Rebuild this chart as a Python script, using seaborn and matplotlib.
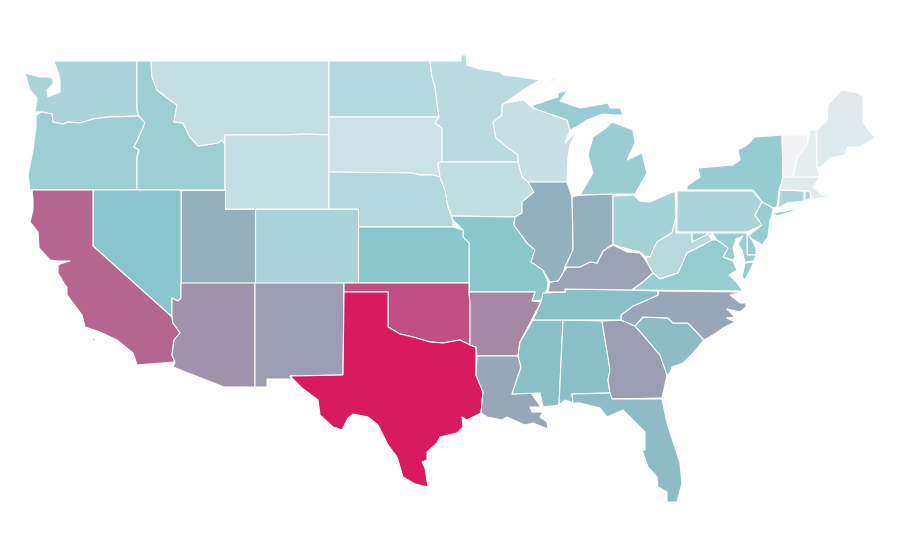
import matplotlib
matplotlib.use("Agg")
import matplotlib.pyplot as plt
import numpy as np
import seaborn as sns
from matplotlib.collections import PolyCollection
from matplotlib.colors import Normalize

sns.set_theme(style="white")

states = ["WA", "OR", "ID", "MT", "WY", "ND", "SD", "NE", "MN", "WI", "IA", "MO", "KS", "CO", "UT",
          "NV", "CA", "AZ", "NM", "OK", "TX", "AR", "LA", "MS", "AL", "GA", "FL", "SC", "NC", "TN",
          "KY", "IL", "IN", "OH", "MI", "NY", "PA", "NJ", "DE", "MD", "WV", "VA", "CT", "RI", "MA",
          "VT", "NH", "ME"]
values = [34, 41, 41, 22, 22, 30, 19, 30, 27, 21, 24, 49, 49, 34, 57,
          50, 78, 65, 62, 84, 100, 68, 59, 52, 52, 62, 53, 53, 59, 52,
          60, 56, 57, 37, 42, 44, 34, 43, 43, 43, 28, 43, 34, 34, 9,
          0, 6, 10]

# outlines are geography traced in picture pixels, some states have more than one piece
outlines = {
    "WA": [[(54, 61), (137, 61), (137, 110), (139, 116), (108, 117), (93, 119), (80, 123), (68, 122), (63, 124),
            (53, 122), (52, 114), (42, 112), (35, 112), (37, 98), (30, 90), (27, 80), (25, 73), (40, 77), (50, 77),
            (53, 79), (53, 84), (47, 90), (48, 97), (60, 92), (60, 80), (58, 72)]],
    "OR": [[(36, 115), (42, 112), (52, 114), (53, 122), (63, 124), (68, 122), (80, 123), (93, 119), (108, 117),
            (139, 116), (145, 123), (138, 139), (134, 147), (139, 150), (137, 157), (137, 190), (30, 190), (28, 175),
            (33, 150), (36, 127)]],
    "ID": [[(137, 61), (151, 61), (152, 77), (157, 90), (167, 98), (177, 105), (174, 122), (183, 123), (190, 137),
            (198, 146), (218, 143), (222, 140), (225, 145), (225, 190), (137, 190), (137, 157), (139, 150), (134, 147),
            (138, 139), (145, 123), (139, 116), (137, 110)]],
    "MT": [[(151, 61), (329, 61), (329, 135), (305, 134), (285, 135), (255, 135), (225, 135), (225, 145), (222, 140),
            (218, 143), (198, 146), (190, 137), (183, 123), (174, 122), (177, 105), (167, 98), (157, 90), (152, 77)]],
    "WY": [[(225, 135), (255, 135), (285, 135), (305, 134), (329, 135), (329, 209), (225, 209)]],
    "ND": [[(329, 61), (430, 61), (432, 77), (435, 87), (437, 103), (439, 117), (329, 117)]],
    "SD": [[(329, 117), (439, 117), (435, 123), (442, 128), (442, 162), (438, 163), (440, 177), (433, 175), (420, 175),
            (412, 173), (329, 172)]],
    "NE": [[(329, 172), (412, 173), (420, 175), (433, 175), (440, 177), (445, 190), (448, 207), (453, 220), (453, 227),
            (358, 227), (358, 209), (329, 209)]],
    "MN": [[(430, 61), (461, 61), (461, 55), (466, 55), (467, 65), (480, 69), (500, 72), (503, 75), (520, 77), (540, 80),
            (523, 90), (505, 103), (502, 105), (502, 115), (493, 122), (496, 138), (507, 147), (518, 155), (518, 162),
            (442, 162), (442, 128), (435, 123), (439, 117), (437, 103), (435, 87), (432, 77)]],
    "WI": [[(502, 105), (505, 103), (523, 100), (533, 108), (567, 120), (570, 130), (565, 143), (577, 131), (570, 145),
            (568, 157), (567, 182), (528, 182), (522, 177), (518, 162), (518, 155), (507, 147), (496, 138), (493, 122),
            (502, 115)]],
    "IA": [[(442, 162), (518, 162), (522, 177), (528, 182), (534, 192), (522, 202), (522, 213), (515, 217), (452, 216),
            (448, 207), (445, 190), (440, 177), (438, 163)]],
    "MO": [[(452, 216), (515, 217), (514, 225), (527, 243), (535, 250), (531, 262), (543, 270), (548, 282), (547, 290),
            (541, 300), (532, 301), (535, 292), (469, 292), (469, 243), (463, 237), (463, 230), (453, 220)]],
    "KS": [[(358, 227), (453, 227), (463, 230), (463, 237), (469, 243), (469, 283), (358, 283)]],
    "CO": [[(255, 209), (358, 209), (358, 283), (255, 283)]],
    "UT": [[(181, 190), (225, 190), (225, 209), (255, 209), (255, 283), (181, 283)]],
    "NV": [[(93, 190), (181, 190), (181, 298), (178, 301), (172, 298), (172, 317), (93, 246)]],
    "CA": [[(32, 190), (93, 190), (93, 246), (172, 317), (173, 323), (180, 333), (174, 340), (172, 355), (175, 362),
            (137, 365), (133, 353), (117, 340), (100, 332), (85, 327), (82, 315), (73, 303), (67, 295), (67, 287),
            (65, 285), (58, 273), (58, 266), (60, 264), (70, 261), (58, 261), (50, 260), (39, 248), (38, 232),
            (30, 222), (33, 210), (33, 200)],
           [(92, 338), (94, 338), (94, 340), (92, 340)]],
    "AZ": [[(181, 283), (255, 283), (255, 387), (224, 387), (173, 367), (175, 362), (172, 355), (174, 340), (180, 333),
            (173, 323), (172, 317), (172, 298), (178, 301), (181, 298)]],
    "NM": [[(255, 283), (344, 283), (344, 292), (343, 375), (290, 376), (292, 379), (267, 379), (267, 387), (255, 387)]],
    "OK": [[(344, 283), (469, 283), (469, 292), (470, 303), (470, 345), (460, 340), (443, 343), (430, 342), (413, 337),
            (400, 334), (388, 327), (388, 292), (344, 292)]],
    "TX": [[(344, 292), (388, 292), (388, 327), (400, 334), (413, 337), (430, 342), (443, 343), (460, 340), (470, 345),
            (476, 347), (476, 375), (483, 392), (481, 413), (467, 420), (462, 417), (463, 427), (457, 433), (440, 437),
            (437, 443), (427, 452), (427, 460), (422, 462), (425, 468), (428, 487), (415, 484), (403, 477), (397, 457),
            (388, 445), (378, 425), (368, 417), (353, 414), (348, 418), (342, 430), (333, 427), (320, 415), (318, 400),
            (302, 388), (290, 376), (343, 375)]],
    "AR": [[(469, 292), (535, 292), (532, 301), (541, 302), (533, 317), (528, 327), (520, 342), (518, 356), (477, 356),
            (476, 347), (470, 345), (470, 303)]],
    "LA": [[(477, 356), (518, 356), (521, 367), (512, 394), (531, 393), (541, 407), (530, 407), (532, 412), (543, 412),
            (540, 417), (547, 422), (548, 429), (533, 423), (525, 425), (507, 417), (502, 420), (487, 417), (481, 413),
            (483, 392), (476, 375)]],
    "MS": [[(533, 320), (563, 320), (559, 405), (543, 407), (540, 393), (512, 394), (521, 367), (518, 356), (520, 342)]],
    "AL": [[(563, 320), (602, 321), (610, 370), (608, 380), (610, 393), (572, 394), (573, 403), (565, 400), (559, 405)]],
    "GA": [[(602, 321), (621, 320), (635, 326), (643, 335), (660, 355), (667, 375), (662, 398), (612, 399), (610, 393),
            (608, 380), (610, 370)]],
    "FL": [[(572, 394), (610, 393), (612, 399), (662, 399), (667, 423), (680, 463), (682, 483), (677, 502), (667, 502),
            (667, 492), (658, 487), (657, 477), (648, 467), (642, 450), (645, 450), (645, 432), (633, 420), (623, 410),
            (607, 417), (600, 408), (580, 403), (573, 403)]],
    "SC": [[(635, 326), (643, 317), (668, 318), (673, 323), (688, 323), (704, 340), (693, 353), (683, 363), (672, 367),
            (670, 373), (667, 375), (660, 355), (643, 335)]],
    "NC": [[(621, 320), (621, 315), (633, 306), (647, 300), (658, 295), (658, 291), (742, 292), (730, 295), (740, 303),
            (746, 303), (746, 307), (740, 312), (727, 309), (735, 317), (727, 318), (735, 322), (723, 328), (713, 335),
            (704, 340), (688, 323), (673, 323), (668, 318), (643, 317), (635, 326)]],
    "TN": [[(543, 293), (565, 292), (565, 289), (632, 290), (658, 291), (658, 295), (647, 300), (633, 306), (621, 315),
            (621, 320), (563, 320), (533, 320), (541, 302)]],
    "KY": [[(548, 292), (550, 282), (558, 281), (563, 273), (567, 267), (580, 267), (590, 262), (597, 263), (603, 251),
            (613, 245), (627, 252), (640, 253), (647, 262), (653, 273), (643, 282), (632, 290), (565, 289), (565, 292)]],
    "IL": [[(528, 182), (567, 182), (572, 197), (573, 240), (573, 250), (565, 267), (563, 273), (558, 281), (550, 282),
            (543, 270), (531, 262), (535, 250), (527, 243), (514, 225), (515, 217), (522, 213), (522, 202), (534, 192)]],
    "IN": [[(572, 197), (580, 195), (613, 194), (613, 244), (603, 251), (597, 263), (590, 262), (580, 267), (567, 267),
            (565, 267), (573, 250), (573, 240)]],
    "OH": [[(613, 196), (633, 195), (640, 201), (650, 202), (675, 191), (676, 217), (672, 233), (657, 242), (650, 257),
            (646, 257), (640, 252), (620, 247), (613, 244)]],
    "MI": [[(580, 195), (593, 173), (588, 155), (593, 137), (606, 128), (612, 122), (633, 130), (635, 143), (627, 160),
            (642, 153), (647, 173), (635, 194), (613, 194)],
           [(533, 105), (558, 97), (558, 93), (568, 90), (560, 101), (580, 108), (608, 103), (610, 108), (620, 108),
            (623, 115), (613, 115), (603, 114), (587, 120), (578, 126), (570, 130), (567, 120), (533, 108)],
           [(550, 81), (555, 78), (556, 79), (551, 82)]],
    "NY": [[(755, 137), (782, 135), (783, 177), (779, 190), (777, 207), (773, 208), (762, 202), (757, 195), (753, 190),
            (687, 190), (687, 186), (700, 177), (698, 168), (733, 165), (740, 160), (738, 150), (747, 145)],
           [(773, 213), (802, 208), (790, 212), (777, 216)]],
    "PA": [[(677, 191), (687, 191), (753, 191), (757, 196), (762, 202), (755, 215), (762, 225), (747, 232), (677, 232)]],
    "NJ": [[(762, 202), (773, 208), (772, 215), (770, 220), (768, 237), (762, 245), (748, 236), (762, 225), (755, 215)]],
    "DE": [[(747, 233), (752, 240), (756, 248), (756, 255), (747, 255)]],
    "MD": [[(692, 233), (747, 233), (747, 255), (756, 255), (754, 261), (745, 262), (742, 250), (738, 244), (743, 236),
            (736, 239), (733, 248), (735, 257), (733, 260), (723, 257), (728, 248), (717, 240), (712, 233), (708, 238),
            (692, 242)]],
    "WV": [[(676, 217), (676, 233), (692, 233), (692, 242), (708, 234), (712, 240), (703, 245), (687, 253), (678, 273),
            (660, 279), (653, 273), (647, 262), (646, 257), (650, 257), (657, 242), (672, 233)]],
    "VA": [[(632, 290), (643, 282), (653, 273), (660, 279), (678, 273), (687, 253), (703, 245), (712, 240), (717, 240),
            (728, 248), (723, 257), (733, 261), (737, 270), (729, 275), (737, 283), (743, 291)],
           [(745, 263), (754, 262), (745, 280), (742, 277)]],
    "CT": [[(780, 190), (804, 191), (804, 201), (787, 203), (777, 209), (779, 203)]],
    "RI": [[(805, 191), (810, 191), (811, 198), (805, 201)]],
    "MA": [[(783, 177), (820, 177), (813, 187), (822, 195), (831, 196), (815, 199), (811, 198), (810, 191), (780, 190)]],
    "VT": [[(782, 135), (808, 135), (807, 145), (797, 158), (793, 177), (783, 177)]],
    "NH": [[(810, 130), (816, 130), (817, 167), (820, 177), (793, 177), (797, 158), (807, 145)]],
    "ME": [[(817, 130), (827, 120), (828, 105), (842, 90), (858, 93), (863, 97), (863, 123), (875, 138), (860, 147),
            (847, 147), (845, 155), (830, 158), (820, 168), (817, 167)]],
}

# low -> teal -> crimson, same stops as the legendless scale in the picture
cmap = sns.blend_palette(["#f3f3f5", "#88c6cc", "#d91a5f"], as_cmap=True)

polys = []
poly_values = []
for state, value in zip(states, values):
    for piece in outlines[state]:
        polys.append(np.array(piece))
        poly_values.append(value)

fig = plt.figure(figsize=(9, 5.6), dpi=100)
ax = fig.add_axes([0, 0, 1, 1])
coll = PolyCollection(polys, array=np.array(poly_values), cmap=cmap, norm=Normalize(0, 100),
                      edgecolors="white", linewidths=0.8)
ax.add_collection(coll)
ax.set_xlim(0, 900)
ax.set_ylim(560, 0)
ax.axis("off")

plt.savefig("out.png", dpi=100)
